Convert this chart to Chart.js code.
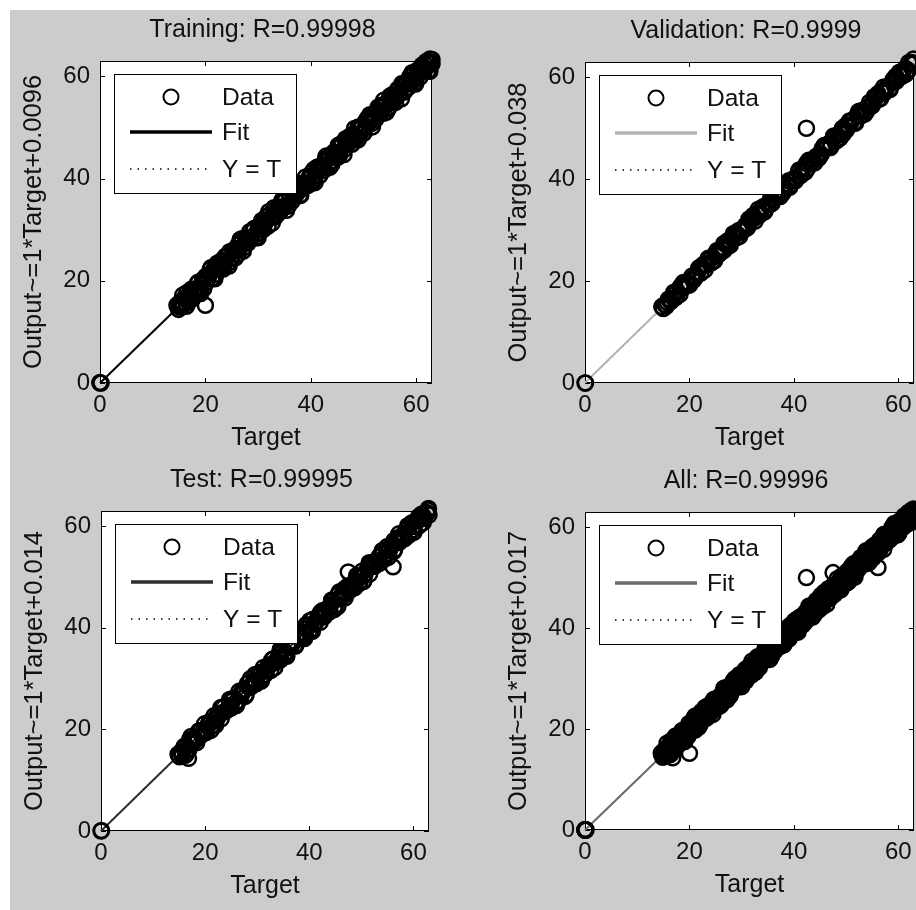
<!DOCTYPE html>
<html>
<head>
<meta charset="utf-8">
<script src="https://cdn.jsdelivr.net/npm/chart.js@4.4.1/dist/chart.umd.min.js"></script>
<style>
  html, body { margin: 0; padding: 0; background: #ffffff; width: 916px; height: 910px; overflow: hidden; }
  #fig { position: absolute; left: 10px; top: 10px; width: 906px; height: 900px; background: #cccccc; }
  canvas { position: absolute; }
</style>
</head>
<body>
<div id="fig"></div>
<script>
// ---- regression data: network targets and outputs per subset ----
const trainTarget = [0, 0, 0.2, 14.6, 14.9, 15.0, 15.2, 15.4, 15.5, 15.8, 20.0,
  16.0,16.3,16.5,16.9,17.2,17.6,17.9,18.3,18.6,19.0,
  19.4,19.7,20.1,20.5,20.9,21.2,21.6,22.0,22.3,22.7,
  23.1,23.4,23.8,24.3,24.6,25.0,25.4,25.7,26.2,26.5,
  26.9,27.3,27.6,28.1,28.4,28.8,29.2,29.5,30.0,30.3,
  30.7,31.1,31.4,31.9,32.2,32.6,33.0,33.3,33.8,34.1,
  34.5,34.9,35.2,35.7,36.0,36.4,36.8,37.1,37.6,37.9,
  38.3,38.7,39.0,39.5,39.8,40.2,40.6,40.9,41.4,41.7,
  42.1,42.5,42.8,43.3,43.6,44.0,44.4,44.7,45.2,45.5,
  45.9,46.3,46.6,47.1,47.4,47.8,48.2,48.5,49.0,49.3,
  49.7,50.1,50.4,50.9,51.2,51.6,52.0,52.3,52.8,53.1,
  53.5,53.9,54.2,54.7,55.0,55.4,55.8,56.1,56.6,56.9,
  57.3,57.7,58.0,58.5,58.8,59.2,59.6,59.9,60.4,60.7,
  61.1,61.5,61.8,62.3,62.6,62.9,63.0,63.0,
  15.1,15.7,16.4,17.1,17.8,18.5,19.1,19.8,20.4,21.1,
  21.8,22.5,23.2,23.8,24.5,25.2,25.9,26.6,27.2,27.9,
  28.6,29.3,30.0,30.6,31.3,32.0,32.7,33.4,34.0,34.7,
  35.4,36.1,36.8,37.4,38.1,38.8,39.5,40.2,40.8,41.5,
  42.2,42.9,43.6,44.2,44.9,45.6,46.3,47.0,47.6,48.3,
  49.0,49.7,50.4,51.0,51.7,52.4,53.1,53.8,54.4,55.1,
  55.8,56.5,57.2,57.8,58.5,59.2,59.9,60.6,61.2,61.9,62.6,
  15.4,16.1,16.8,17.4,18.1,18.8,19.5,20.1,20.8,21.5,
  22.1,22.8,23.5,24.2,24.8,25.5,26.2,26.9,27.6,28.2,
  28.9,29.6,30.3,31.0,31.6,32.3,33.0,33.7,34.4,35.0,
  35.7,36.4,37.1,37.8,38.4,39.1,39.8,40.5,41.2,41.8,
  42.5,43.2,43.9,44.6,45.2,45.9,46.6,47.3,48.0,48.6,
  49.3,50.0,50.7,51.4,52.0,52.7,53.4,54.1,54.8,55.4,
  56.1,56.8,57.5,58.2,58.8,59.5,60.2,60.9,61.6,62.2,62.9];
const trainOutput = [0, 0.1, 0, 15.2, 14.4, 15.6, 14.8, 15.9, 15.0, 15.2, 15.2,
  16.6,15.6,17.7,16.6,18.1,16.5,18.1,17.4,19.7,18.5,
  19.8,18.5,20.9,20.4,22.2,20.4,22.2,21.3,23.5,22.4,
  24.0,22.3,24.0,23.4,25.7,24.5,25.8,24.5,27.0,26.4,
  28.2,26.5,28.2,27.4,29.6,28.5,30.1,28.4,30.2,29.4,
  31.8,30.6,31.8,30.7,33.0,32.5,34.3,32.5,34.4,33.4,
  35.7,34.6,36.1,34.6,36.2,35.5,37.9,36.6,38.0,36.7,
  39.1,38.6,40.3,38.7,40.4,39.5,41.8,40.6,42.3,40.6,
  42.3,41.6,43.9,42.8,44.0,42.8,45.2,44.6,46.5,44.7,
  46.5,45.6,47.8,46.8,48.3,46.7,48.4,47.6,50.1,48.8,
  50.1,48.9,51.2,50.8,52.5,50.8,52.6,51.6,54.0,52.8,
  54.4,52.8,54.4,53.8,56.1,54.9,56.2,54.9,57.4,56.8,
  58.6,56.9,58.6,57.8,60.0,58.9,60.5,58.8,60.6,59.8,
  62.2,61.0,62.2,61.1,63.4,62.8,63.3,62.4,
  15.1,17.2,15.0,17.4,17.4,19.5,17.5,20.5,20.4,22.6,
  20.4,22.8,22.8,24.8,22.9,25.9,25.9,28.1,25.8,28.2,
  28.2,30.3,28.4,31.3,31.3,33.5,31.3,33.7,33.6,35.7,
  33.8,36.8,36.8,38.9,36.7,39.1,39.1,41.2,39.2,42.2,
  42.2,44.4,42.2,44.5,44.5,46.6,44.7,47.7,47.6,49.8,
  47.6,50.0,50.0,52.0,50.1,53.1,53.1,55.3,53.0,55.4,
  55.4,57.5,55.6,58.5,58.5,60.7,58.5,60.9,60.8,62.9,61.0,
  14.9,16.6,15.8,18.4,18.1,18.6,20.2,19.6,21.3,20.5,
  23.1,22.8,23.3,24.9,24.3,26.0,25.2,27.9,27.6,28.0,
  29.6,29.1,30.8,30.0,32.6,32.3,32.8,34.4,33.9,35.5,
  34.7,37.4,37.1,37.6,39.1,38.6,40.3,39.5,42.2,41.8,
  42.3,43.9,43.4,45.1,44.2,46.9,46.6,47.1,48.7,48.1,
  49.8,49.0,51.7,51.4,51.8,53.4,52.9,54.6,53.8,56.4,
  56.1,56.6,58.2,57.7,59.3,58.5,61.2,60.9,61.4,62.9,62.4];

const valTarget = [0, 0.1, 14.7, 15.0, 15.3, 15.6, 42.4,
  16.0,16.5,17.1,17.6,18.2,18.8,19.3,19.9,20.5,21.0,
  21.6,22.2,22.7,23.3,23.9,24.4,25.0,25.6,26.1,26.7,
  27.3,27.8,28.4,29.0,29.5,30.1,30.7,31.2,31.8,32.4,
  32.9,33.5,34.1,34.6,35.2,35.8,36.3,36.9,37.5,38.0,
  38.6,39.2,39.7,40.3,40.9,41.4,42.0,42.6,43.1,43.7,
  44.3,44.8,45.4,46.0,46.5,47.1,47.7,48.2,48.8,49.4,
  49.9,50.5,51.1,51.6,52.2,52.8,53.3,53.9,54.5,55.0,
  55.6,56.2,56.7,57.3,57.9,58.4,59.0,59.6,60.1,60.7,
  61.3,61.8,62.4,63.0,
  15.8,17.0,18.2,19.4,20.6,21.8,23.0,24.2,25.4,26.6,
  27.8,29.0,30.2,31.4,32.6,33.8,35.0,36.2,37.4,38.6,
  39.8,41.0,42.2,43.4,44.6,45.8,47.0,48.2,49.4,50.6,
  51.8,53.0,54.2,55.4,56.6,57.8,59.0,60.2,61.4,62.6,
  16.4,17.6,18.8,20.0,21.2,22.4,23.6,24.8,26.0,27.2,
  28.4,29.6,30.8,32.0,33.2,34.4,35.6,36.8,38.0,39.2,
  40.4,41.6,42.8,44.0,45.2,46.4,47.6,48.8,50.0,51.2,
  52.4,53.6,54.8,56.0,57.2,58.4,59.6,60.8,62.0,
  16.2,17.3,18.5,19.6,20.8,21.9,23.1,24.2,25.3,26.5,
  27.6,28.8,29.9,31.0,32.2,33.3,34.5,35.6,36.7,37.9,
  39.0,40.2,41.3,42.4,43.6,44.7,45.9,47.0,48.1,49.3,
  50.4,51.6,52.7,53.8,55.0,56.1,57.3,58.4,59.5,60.7,61.8,62.9];
const valOutput = [0, 0, 15.0, 14.6, 15.4, 15.1, 50.0,
  16.5,16.1,17.3,17.0,18.8,18.7,19.6,19.4,21.0,20.6,
  21.8,21.6,23.3,23.2,24.2,23.9,25.5,25.2,26.3,26.1,
  27.9,27.7,28.7,28.5,30.0,29.7,30.9,30.6,32.4,32.3,
  33.2,33.0,34.6,34.2,35.4,35.2,36.9,36.8,37.8,37.5,
  39.1,38.8,39.9,39.7,41.5,41.3,42.3,42.1,43.6,43.3,
  44.5,44.2,46.0,45.9,46.8,46.6,48.2,47.8,49.0,48.8,
  50.5,50.4,51.4,51.1,52.7,52.4,53.5,53.3,55.1,54.9,
  55.9,55.7,57.2,56.9,58.1,57.8,59.6,59.5,60.4,60.2,
  61.8,61.4,62.6,62.7,
  15.8,17.8,17.4,19.7,20.6,22.6,22.2,24.5,25.4,27.4,
  27.0,29.3,30.2,32.2,31.8,34.1,35.0,37.0,36.6,38.9,
  39.8,41.8,41.4,43.7,44.6,46.6,46.2,48.5,49.4,51.4,
  51.0,53.3,54.2,56.2,55.8,58.1,59.0,61.0,60.6,62.9,
  16.0,18.0,19.7,19.2,20.8,22.8,24.5,24.0,25.6,27.6,
  29.3,28.8,30.4,32.4,34.1,33.6,35.2,37.2,38.9,38.4,
  40.0,42.0,43.7,43.2,44.8,46.8,48.5,48.0,49.6,51.6,
  53.3,52.8,54.4,56.4,58.1,57.6,59.2,61.2,62.9,
  16.3,16.7,19.2,19.7,20.2,22.6,23.2,23.6,26.0,26.6,
  27.0,29.5,30.0,30.4,32.9,33.4,33.9,36.3,36.8,37.3,
  39.7,40.3,40.7,43.1,43.7,44.1,46.6,47.1,47.5,50.0,
  50.5,51.0,53.4,53.9,54.4,56.8,57.4,57.8,60.2,60.8,61.2,63.6];

const testTarget = [0, 0.1, 14.8, 15.1, 15.3, 15.6, 16.8, 47.5, 56.1,
  16.0,16.5,17.0,17.4,17.9,18.4,18.9,19.3,19.8,20.3,
  20.8,21.2,21.7,22.2,22.7,23.1,23.6,24.1,24.6,25.0,
  25.5,26.0,26.5,26.9,27.4,27.9,28.4,28.8,29.3,29.8,
  30.3,30.7,31.2,31.7,32.2,32.6,33.1,33.6,34.1,34.5,
  35.0,35.5,36.0,36.4,36.9,37.4,37.9,38.3,38.8,39.3,
  39.8,40.2,40.7,41.2,41.7,42.1,42.6,43.1,43.6,44.0,
  44.5,45.0,45.5,45.9,46.4,46.9,47.4,47.8,48.3,48.8,
  49.3,49.7,50.2,50.7,51.2,51.6,52.1,52.6,53.1,53.5,
  54.0,54.5,55.0,55.4,55.9,56.4,56.9,57.3,57.8,58.3,
  58.8,59.2,59.7,60.2,60.7,61.1,61.6,62.1,62.6,63.0,
  15.4,16.3,17.3,18.2,19.2,20.1,21.1,22.0,23.0,23.9,
  24.9,25.8,26.8,27.7,28.7,29.6,30.6,31.5,32.5,33.4,
  34.4,35.3,36.3,37.2,38.2,39.1,40.1,41.0,42.0,42.9,
  43.9,44.8,45.8,46.7,47.7,48.6,49.6,50.5,51.5,52.4,
  53.4,54.3,55.3,56.2,57.2,58.1,59.1,60.0,61.0,61.9,62.9,
  15.9,16.9,17.8,18.8,19.7,20.6,21.6,22.5,23.4,24.4,
  25.3,26.3,27.2,28.1,29.1,30.0,30.9,31.9,32.8,33.8,
  34.7,35.6,36.6,37.5,38.5,39.4,40.3,41.3,42.2,43.1,
  44.1,45.0,46.0,46.9,47.8,48.8,49.7,50.6,51.6,52.5,
  53.5,54.4,55.3,56.3,57.2,58.1,59.1,60.0,61.0,61.9,62.8,
  16.2,17.4,18.6,19.9,21.1,22.3,23.5,24.7,26.0,27.2,
  28.4,29.6,30.8,32.1,33.3,34.5,35.7,36.9,38.2,39.4,
  40.6,41.8,43.0,44.3,45.5,46.7,47.9,49.1,50.4,51.6,
  52.8,54.0,55.2,56.5,57.7,58.9,60.1,61.3,62.6];
const testOutput = [0, 0.1, 15.1, 14.6, 15.5, 15.0, 14.3, 51.0, 52.0,
  16.7,15.9,18.0,17.2,18.3,17.4,19.7,18.9,19.9,19.5,
  21.5,20.6,22.7,22.0,23.1,22.1,24.4,23.7,24.7,24.2,
  26.2,25.4,27.5,26.7,27.8,26.9,29.2,28.4,29.4,29.0,
  31.0,30.1,32.2,31.5,32.6,31.6,33.9,33.2,34.2,33.7,
  35.7,34.9,37.0,36.2,37.3,36.4,38.7,37.9,38.9,38.5,
  40.5,39.6,41.7,41.0,42.1,41.1,43.4,42.7,43.7,43.2,
  45.2,44.4,46.5,45.7,46.8,45.9,48.2,47.4,48.4,48.0,
  50.0,49.1,51.2,50.5,51.6,50.6,52.9,52.2,53.2,52.7,
  54.7,53.9,56.0,55.2,56.3,55.4,57.7,56.9,57.9,57.5,
  59.5,58.6,60.7,60.0,61.1,60.1,62.4,61.7,62.7,62.2,
  15.6,15.1,18.6,17.9,19.8,19.4,21.3,20.8,24.3,23.6,
  25.5,25.1,27.0,26.5,30.0,29.3,31.2,30.8,32.7,32.2,
  35.7,35.0,36.9,36.5,38.4,37.9,41.4,40.7,42.6,42.2,
  44.1,43.6,47.1,46.4,48.3,47.9,49.8,49.3,52.8,52.1,
  54.0,53.6,55.5,55.0,58.5,57.8,59.7,59.3,61.2,60.7,63.5,
  16.3,16.0,17.8,19.7,19.3,21.0,20.7,22.5,24.3,24.0,
  25.7,25.4,27.2,29.0,28.7,30.4,30.0,31.9,33.7,33.4,
  35.1,34.7,36.6,38.4,38.1,39.8,39.4,41.3,43.1,42.7,
  44.5,44.1,46.0,47.8,47.4,49.2,48.8,50.6,52.5,52.1,
  53.9,53.5,55.3,57.2,56.8,58.5,58.2,60.0,61.9,61.5,63.2,
  14.9,17.9,18.5,21.1,19.8,22.8,23.4,25.9,24.7,27.7,
  28.3,30.8,29.5,32.6,33.2,35.7,34.4,37.4,38.1,40.6,
  39.3,42.3,42.9,45.5,44.2,47.2,47.8,50.3,49.1,52.1,
  52.7,55.2,53.9,57.0,57.6,60.1,58.8,61.8,62.5];

// "All" is the union of the three subsets
const allTarget = [...trainTarget, ...valTarget, ...testTarget];
const allOutput = [...trainOutput, ...valOutput, ...testOutput];

// subset names, correlation coefficients and linear-fit coefficients
const subsetNames = ['Training', 'Validation', 'Test', 'All'];
const rValues = ['0.99998', '0.9999', '0.99995', '0.99996'];
const fitSlopes = [1, 1, 1, 1];
const fitIntercepts = ['0.0096', '0.038', '0.014', '0.017'];
const tickValues = [0, 20, 40, 60];
const axisMax = 63;
const legendLabels = ['Data', 'Fit', 'Y = T'];

const targets = [trainTarget, valTarget, testTarget, allTarget];
const outputs = [trainOutput, valOutput, testOutput, allOutput];

// ---- page layout (plot frame in page pixels) and styles ----
const frames = [
  { l: 100, t: 61, r: 432, b: 383 },
  { l: 585, t: 62, r: 914, b: 383 },
  { l: 101, t: 511, r: 429, b: 831 },
  { l: 585, t: 512, r: 914, b: 830 }
];
const fitColors = ['#000000', '#b4b4b4', '#2e2e2e', '#6a6a6a'];
const FONT = '"Liberation Sans", Arial, Helvetica, sans-serif';
const TEXT = '#111111';
const AX_W = 90, AX_H = 70, PAD_T = 51, PAD_R = 14;

// white axes background and frame with inward ticks, drawn under the data
const axesBox = {
  id: 'axesBox',
  beforeDatasetsDraw(chart) {
    const { ctx, chartArea: a, scales } = chart;
    ctx.save();
    ctx.fillStyle = '#ffffff';
    ctx.fillRect(a.left, a.top, a.right - a.left, a.bottom - a.top);
    ctx.strokeStyle = '#000';
    ctx.lineWidth = 1;
    ctx.strokeRect(Math.round(a.left) + 0.5, Math.round(a.top) + 0.5,
                   Math.round(a.right - a.left) - 1, Math.round(a.bottom - a.top) - 1);
    const tl = 5;
    ctx.beginPath();
    tickValues.forEach(v => {
      const px = Math.round(scales.x.getPixelForValue(v)) + 0.5;
      ctx.moveTo(px, a.bottom); ctx.lineTo(px, a.bottom - tl);
      ctx.moveTo(px, a.top); ctx.lineTo(px, a.top + tl);
      const py = Math.round(scales.y.getPixelForValue(v)) + 0.5;
      ctx.moveTo(a.left, py); ctx.lineTo(a.left + tl, py);
      ctx.moveTo(a.right, py); ctx.lineTo(a.right - tl, py);
    });
    ctx.stroke();
    ctx.restore();
  }
};

// boxed legend in the upper-left of the axes, and the panel title
const boxLegend = {
  id: 'boxLegend',
  afterDraw(chart, args, opts) {
    const { ctx, chartArea: a } = chart;
    const ds = chart.data.datasets;
    const x0 = a.left + 14, y0 = a.top + 13, w = 182, h = 119;
    ctx.save();
    ctx.fillStyle = '#ffffff';
    ctx.fillRect(x0, y0, w, h);
    ctx.strokeStyle = '#000';
    ctx.lineWidth = 1;
    ctx.strokeRect(Math.round(x0) + 0.5, Math.round(y0) + 0.5, w, h);
    const rows = [y0 + 23, y0 + 58, y0 + 95];
    const s0 = x0 + 16, s1 = x0 + 98;
    // Data marker
    ctx.beginPath();
    ctx.arc(x0 + 57, rows[0], ds[0].pointRadius, 0, Math.PI * 2);
    ctx.lineWidth = 2;
    ctx.strokeStyle = ds[0].pointBorderColor;
    ctx.stroke();
    // Fit sample
    ctx.beginPath();
    ctx.moveTo(s0, rows[1]); ctx.lineTo(s1, rows[1]);
    ctx.lineWidth = 3.5;
    ctx.strokeStyle = ds[1].borderColor;
    ctx.stroke();
    // Y = T sample
    ctx.beginPath();
    ctx.setLineDash(ds[2].borderDash);
    ctx.moveTo(s0, rows[2]); ctx.lineTo(s1, rows[2]);
    ctx.lineWidth = ds[2].borderWidth;
    ctx.strokeStyle = ds[2].borderColor;
    ctx.stroke();
    ctx.setLineDash([]);
    ctx.fillStyle = TEXT;
    ctx.font = '24.5px ' + FONT;
    ctx.textBaseline = 'middle';
    ctx.textAlign = 'left';
    ds.forEach((d, i) => ctx.fillText(d.label, x0 + 108, rows[i] + 1));
    // title
    ctx.font = '25px ' + FONT;
    ctx.textAlign = 'center';
    ctx.fillText(opts.text, (a.left + a.right) / 2 - 3.5, a.top - 31);
    ctx.restore();
  }
};

const fig = document.body;
subsetNames.forEach((name, k) => {
  const f = frames[k];
  const cw = AX_W + (f.r - f.l) + PAD_R;
  const chh = PAD_T + (f.b - f.t) + AX_H;
  const cv = document.createElement('canvas');
  cv.width = cw; cv.height = chh;
  cv.style.left = (f.l - AX_W) + 'px';
  cv.style.top = (f.t - PAD_T) + 'px';
  cv.style.width = cw + 'px'; cv.style.height = chh + 'px';
  fig.appendChild(cv);

  const pts = targets[k].map((t, i) => ({ x: t, y: outputs[k][i] }));
  const m = fitSlopes[k], b = parseFloat(fitIntercepts[k]);
  const fitLine = [{ x: 0, y: b }, { x: axisMax, y: m * axisMax + b }];
  const idLine = [{ x: 0, y: 0 }, { x: axisMax, y: axisMax }];
  const yLabel = 'Output~=' + m + '*Target+' + fitIntercepts[k];

  const tickFont = { family: FONT, size: 24 };
  const labelFont = { family: FONT, size: 25.5 };
  new Chart(cv, {
    type: 'scatter',
    data: {
      datasets: [
        { label: legendLabels[0], data: pts, showLine: false, pointStyle: 'circle',
          pointRadius: 7.5, pointBorderWidth: 2.5, pointBorderColor: '#000000',
          pointBackgroundColor: 'rgba(0,0,0,0)', backgroundColor: 'rgba(0,0,0,0)',
          borderColor: '#000000', clip: false },
        { label: legendLabels[1], type: 'line', data: fitLine, borderColor: fitColors[k],
          borderWidth: 2, pointRadius: 0, fill: false, clip: false },
        { label: legendLabels[2], type: 'line', data: idLine, borderColor: '#000000',
          borderWidth: 1.3, borderDash: [1.5, 6], pointRadius: 0, fill: false }
      ]
    },
    options: {
      responsive: false,
      animation: false,
      events: [],
      layout: { padding: { top: PAD_T, right: PAD_R, left: 0, bottom: 0 } },
      plugins: {
        legend: { display: false },
        tooltip: { enabled: false },
        title: { display: false },
        boxLegend: { text: name + ': R=' + rValues[k] }
      },
      scales: {
        x: {
          type: 'linear', min: 0, max: axisMax,
          afterBuildTicks: s => { s.ticks = tickValues.map(v => ({ value: v })); },
          afterFit: s => { s.height = AX_H; },
          grid: { display: false, drawTicks: false },
          border: { display: false },
          ticks: { font: tickFont, color: TEXT, padding: 8, maxRotation: 0, autoSkip: false,
                    callback: v => String(v) },
          title: { display: true, text: 'Target', font: { family: FONT, size: 25 }, color: TEXT,
                   padding: { top: 0, bottom: 0 } }
        },
        y: {
          type: 'linear', min: 0, max: axisMax,
          afterBuildTicks: s => { s.ticks = tickValues.map(v => ({ value: v })); },
          afterFit: s => { s.width = AX_W; },
          grid: { display: false, drawTicks: false },
          border: { display: false },
          ticks: { font: tickFont, color: TEXT, padding: 10, autoSkip: false,
                   callback: v => String(v) },
          title: { display: true, text: yLabel, font: labelFont, color: TEXT,
                   padding: { top: 9, bottom: 0 } }
        }
      }
    },
    plugins: [axesBox, boxLegend]
  });
});
</script>
</body>
</html>
